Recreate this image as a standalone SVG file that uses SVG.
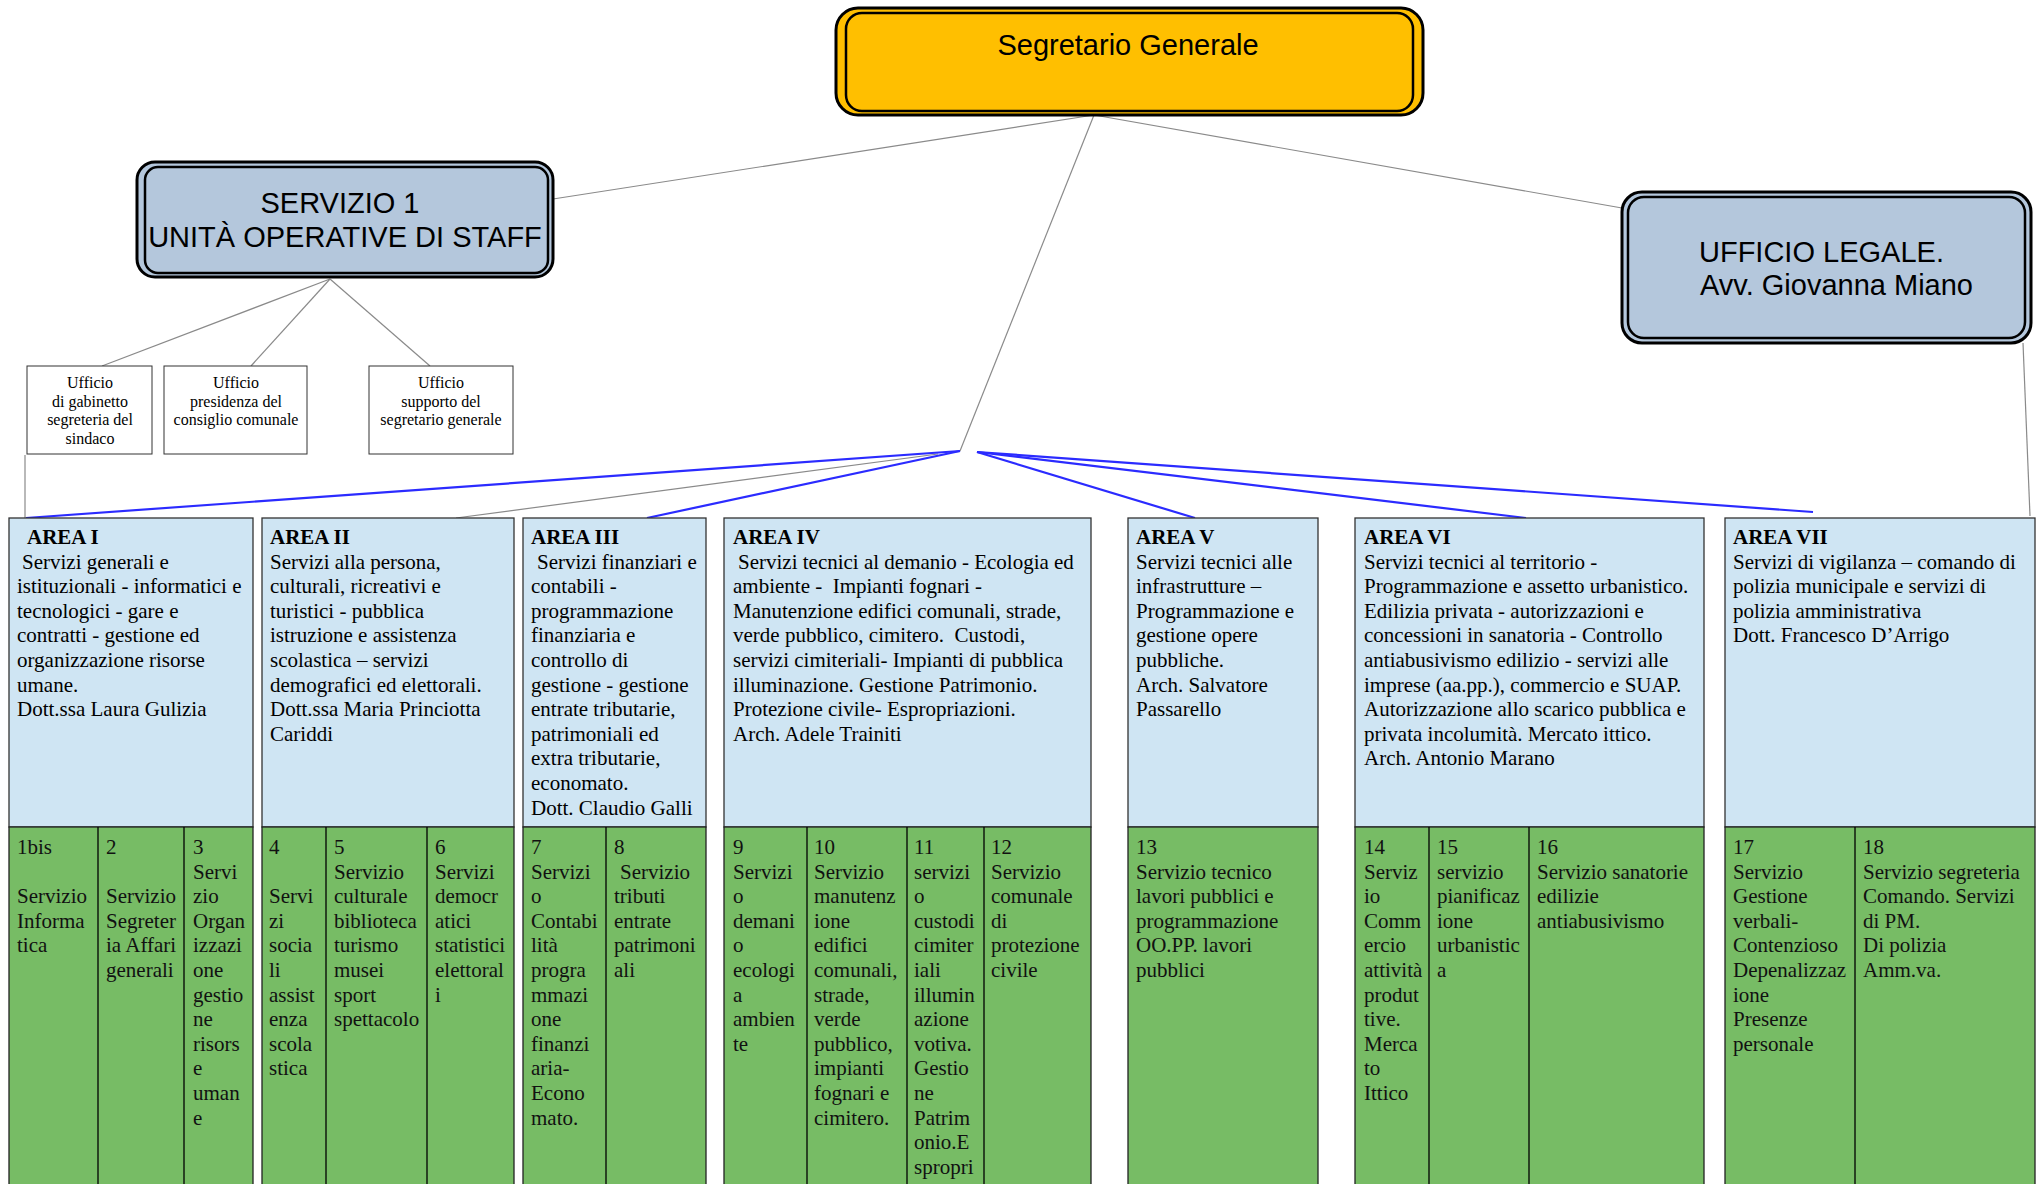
<svg xmlns="http://www.w3.org/2000/svg" width="2042" height="1184" viewBox="0 0 2042 1184" xml:space="preserve">
<style>
.h{font-family:"Liberation Sans",Arial,sans-serif;font-size:29px;fill:#000}
.s{font-family:"Liberation Serif","Times New Roman",serif;font-size:16px;fill:#000}
.a{font-family:"Liberation Serif","Times New Roman",serif;font-size:21px;fill:#000}
.g{font-family:"Liberation Serif","Times New Roman",serif;font-size:21px;fill:#111}
.t{font-weight:bold}
.area{fill:#cfe5f3;stroke:#333;stroke-width:1.3}
.green{fill:#77bc65;stroke:#222;stroke-width:1.3}
.div{stroke:#000;stroke-width:1.3}
.staff{fill:#fff;stroke:#333;stroke-width:1}
.grey{stroke:#8a8a8a;stroke-width:1.2;fill:none}
.blue{stroke:#2b2bff;stroke-width:2.2;fill:none}
.ob{stroke:#000;stroke-width:3}
.ib{fill:none;stroke:#000;stroke-width:2.5}
</style>

<g id="connectors">
  <line class="grey" x1="1094" y1="115" x2="553" y2="199"/>
  <line class="grey" x1="1094" y1="115" x2="1622" y2="208"/>
  <line class="grey" x1="1094" y1="115" x2="960" y2="451"/>
  <line class="grey" x1="330" y1="279" x2="102" y2="366"/>
  <line class="grey" x1="330" y1="279" x2="251" y2="366"/>
  <line class="grey" x1="330" y1="279" x2="430" y2="366"/>
  <line class="grey" x1="25" y1="455" x2="25" y2="518"/>
  <line class="grey" x1="2023" y1="343" x2="2030" y2="516"/>
  <line class="grey" x1="938" y1="454" x2="456" y2="518"/>
  <line class="blue" x1="960" y1="451" x2="26" y2="518"/>
  <line class="blue" x1="960" y1="451" x2="647" y2="518"/>
  <line class="blue" x1="977" y1="452" x2="1195" y2="518"/>
  <line class="blue" x1="977" y1="452" x2="1526" y2="518"/>
  <line class="blue" x1="977" y1="452" x2="1813" y2="512"/>
</g>

<g id="segretario">
  <rect class="ob" x="836" y="8" width="587" height="107" rx="22" fill="#ffbf00"/>
  <rect class="ib" x="846" y="13" width="567" height="98" rx="16"/>
  <text class="h" x="1128" y="55" text-anchor="middle">Segretario Generale</text>
</g>

<g id="servizio1">
  <rect class="ob" x="137" y="162" width="416" height="115" rx="18" fill="#b4c7dc"/>
  <rect class="ib" x="145" y="167" width="403" height="106" rx="13"/>
  <text class="h" x="340" y="213" text-anchor="middle">SERVIZIO 1</text>
  <text class="h" x="345" y="247" text-anchor="middle">UNITÀ OPERATIVE DI STAFF</text>
</g>

<g id="ufficio-legale">
  <rect class="ob" x="1622" y="192" width="409" height="151" rx="20" fill="#b4c7dc"/>
  <rect class="ib" x="1628" y="197" width="397" height="141" rx="16"/>
  <text class="h" x="1699" y="262">UFFICIO LEGALE.</text>
  <text class="h" x="1700" y="295">Avv. Giovanna Miano</text>
</g>

<g id="staff1">
  <rect class="staff" x="27" y="366" width="125" height="88"/>
  <text class="s" text-anchor="middle"><tspan x="90" y="388">Ufficio</tspan><tspan x="90" y="406.5">di gabinetto</tspan><tspan x="90" y="425">segreteria del</tspan><tspan x="90" y="443.5">sindaco</tspan></text>
</g>
<g id="staff2">
  <rect class="staff" x="164" y="366" width="143" height="88"/>
  <text class="s" text-anchor="middle"><tspan x="236" y="388">Ufficio</tspan><tspan x="236" y="406.5">presidenza del</tspan><tspan x="236" y="425">consiglio comunale</tspan></text>
</g>
<g id="staff3">
  <rect class="staff" x="369" y="366" width="144" height="88"/>
  <text class="s" text-anchor="middle"><tspan x="441" y="388">Ufficio</tspan><tspan x="441" y="406.5">supporto del</tspan><tspan x="441" y="425">segretario generale</tspan></text>
</g>

<g id="area1">
  <rect class="area" x="9" y="518" width="244" height="309"/>
  <rect class="green" x="9" y="827" width="244" height="380"/>
  <line class="div" x1="98" y1="827" x2="98" y2="1190"/>
  <line class="div" x1="184" y1="827" x2="184" y2="1190"/>
  <text class="a"><tspan class="t" x="27" y="544">AREA I</tspan><tspan x="22" y="568.6">Servizi generali e</tspan><tspan x="17" y="593.2">istituzionali - informatici e</tspan><tspan x="17" y="617.8">tecnologici - gare e</tspan><tspan x="17" y="642.4">contratti - gestione ed</tspan><tspan x="17" y="667">organizzazione risorse</tspan><tspan x="17" y="691.6">umane.</tspan><tspan x="17" y="716.2">Dott.ssa Laura Gulizia</tspan></text>
  <text class="g"><tspan x="17" y="854">1bis</tspan><tspan x="17" y="903.2">Servizio</tspan><tspan x="17" y="927.8">Informa</tspan><tspan x="17" y="952.4">tica</tspan></text>
  <text class="g"><tspan x="106" y="854">2</tspan><tspan x="106" y="903.2">Servizio</tspan><tspan x="106" y="927.8">Segreter</tspan><tspan x="106" y="952.4">ia Affari</tspan><tspan x="106" y="977">generali</tspan></text>
  <text class="g"><tspan x="193" y="854">3</tspan><tspan x="193" y="878.6">Servi</tspan><tspan x="193" y="903.2">zio</tspan><tspan x="193" y="927.8">Organ</tspan><tspan x="193" y="952.4">izzazi</tspan><tspan x="193" y="977">one</tspan><tspan x="193" y="1001.6">gestio</tspan><tspan x="193" y="1026.2">ne</tspan><tspan x="193" y="1050.8">risors</tspan><tspan x="193" y="1075.4">e</tspan><tspan x="193" y="1100">uman</tspan><tspan x="193" y="1124.6">e</tspan></text>
</g>

<g id="area2">
  <rect class="area" x="262" y="518" width="252" height="309"/>
  <rect class="green" x="262" y="827" width="252" height="380"/>
  <line class="div" x1="326" y1="827" x2="326" y2="1190"/>
  <line class="div" x1="427" y1="827" x2="427" y2="1190"/>
  <text class="a"><tspan class="t" x="270" y="544">AREA II</tspan><tspan x="270" y="568.6">Servizi alla persona,</tspan><tspan x="270" y="593.2">culturali, ricreativi e</tspan><tspan x="270" y="617.8">turistici - pubblica</tspan><tspan x="270" y="642.4">istruzione e assistenza</tspan><tspan x="270" y="667">scolastica – servizi</tspan><tspan x="270" y="691.6">demografici ed elettorali.</tspan><tspan x="270" y="716.2">Dott.ssa Maria Princiotta</tspan><tspan x="270" y="740.8">Cariddi</tspan></text>
  <text class="g"><tspan x="269" y="854">4</tspan><tspan x="269" y="903.2">Servi</tspan><tspan x="269" y="927.8">zi</tspan><tspan x="269" y="952.4">socia</tspan><tspan x="269" y="977">li</tspan><tspan x="269" y="1001.6">assist</tspan><tspan x="269" y="1026.2">enza</tspan><tspan x="269" y="1050.8">scola</tspan><tspan x="269" y="1075.4">stica</tspan></text>
  <text class="g"><tspan x="334" y="854">5</tspan><tspan x="334" y="878.6">Servizio</tspan><tspan x="334" y="903.2">culturale</tspan><tspan x="334" y="927.8">biblioteca</tspan><tspan x="334" y="952.4">turismo</tspan><tspan x="334" y="977">musei</tspan><tspan x="334" y="1001.6">sport</tspan><tspan x="334" y="1026.2">spettacolo</tspan></text>
  <text class="g"><tspan x="435" y="854">6</tspan><tspan x="435" y="878.6">Servizi</tspan><tspan x="435" y="903.2">democr</tspan><tspan x="435" y="927.8">atici</tspan><tspan x="435" y="952.4">statistici</tspan><tspan x="435" y="977">elettoral</tspan><tspan x="435" y="1001.6">i</tspan></text>
</g>

<g id="area3">
  <rect class="area" x="523" y="518" width="183" height="309"/>
  <rect class="green" x="523" y="827" width="183" height="380"/>
  <line class="div" x1="606" y1="827" x2="606" y2="1190"/>
  <text class="a"><tspan class="t" x="531" y="544">AREA III</tspan><tspan x="537" y="568.6">Servizi finanziari e</tspan><tspan x="531" y="593.2">contabili -</tspan><tspan x="531" y="617.8">programmazione</tspan><tspan x="531" y="642.4">finanziaria e</tspan><tspan x="531" y="667">controllo di</tspan><tspan x="531" y="691.6">gestione - gestione</tspan><tspan x="531" y="716.2">entrate tributarie,</tspan><tspan x="531" y="740.8">patrimoniali ed</tspan><tspan x="531" y="765.4">extra tributarie,</tspan><tspan x="531" y="790">economato.</tspan><tspan x="531" y="814.6">Dott. Claudio Galli</tspan></text>
  <text class="g"><tspan x="531" y="854">7</tspan><tspan x="531" y="878.6">Servizi</tspan><tspan x="531" y="903.2">o</tspan><tspan x="531" y="927.8">Contabi</tspan><tspan x="531" y="952.4">lità</tspan><tspan x="531" y="977">progra</tspan><tspan x="531" y="1001.6">mmazi</tspan><tspan x="531" y="1026.2">one</tspan><tspan x="531" y="1050.8">finanzi</tspan><tspan x="531" y="1075.4">aria-</tspan><tspan x="531" y="1100">Econo</tspan><tspan x="531" y="1124.6">mato.</tspan></text>
  <text class="g"><tspan x="614" y="854">8</tspan><tspan x="620" y="878.6">Servizio</tspan><tspan x="614" y="903.2">tributi</tspan><tspan x="614" y="927.8">entrate</tspan><tspan x="614" y="952.4">patrimoni</tspan><tspan x="614" y="977">ali</tspan></text>
</g>

<g id="area4">
  <rect class="area" x="724" y="518" width="367" height="309"/>
  <rect class="green" x="724" y="827" width="367" height="380"/>
  <line class="div" x1="807" y1="827" x2="807" y2="1190"/>
  <line class="div" x1="907" y1="827" x2="907" y2="1190"/>
  <line class="div" x1="984" y1="827" x2="984" y2="1190"/>
  <text class="a"><tspan class="t" x="733" y="544">AREA IV</tspan><tspan x="738" y="568.6">Servizi tecnici al demanio - Ecologia ed</tspan><tspan x="733" y="593.2">ambiente - &#160;Impianti fognari -</tspan><tspan x="733" y="617.8">Manutenzione edifici comunali, strade,</tspan><tspan x="733" y="642.4">verde pubblico, cimitero. &#160;Custodi,</tspan><tspan x="733" y="667">servizi cimiteriali- Impianti di pubblica</tspan><tspan x="733" y="691.6">illuminazione. Gestione Patrimonio.</tspan><tspan x="733" y="716.2">Protezione civile- Espropriazioni.</tspan><tspan x="733" y="740.8">Arch. Adele Trainiti</tspan></text>
  <text class="g"><tspan x="733" y="854">9</tspan><tspan x="733" y="878.6">Servizi</tspan><tspan x="733" y="903.2">o</tspan><tspan x="733" y="927.8">demani</tspan><tspan x="733" y="952.4">o</tspan><tspan x="733" y="977">ecologi</tspan><tspan x="733" y="1001.6">a</tspan><tspan x="733" y="1026.2">ambien</tspan><tspan x="733" y="1050.8">te</tspan></text>
  <text class="g"><tspan x="814" y="854">10</tspan><tspan x="814" y="878.6">Servizio</tspan><tspan x="814" y="903.2">manutenz</tspan><tspan x="814" y="927.8">ione</tspan><tspan x="814" y="952.4">edifici</tspan><tspan x="814" y="977">comunali,</tspan><tspan x="814" y="1001.6">strade,</tspan><tspan x="814" y="1026.2">verde</tspan><tspan x="814" y="1050.8">pubblico,</tspan><tspan x="814" y="1075.4">impianti</tspan><tspan x="814" y="1100">fognari e</tspan><tspan x="814" y="1124.6">cimitero.</tspan></text>
  <text class="g"><tspan x="914" y="854">11</tspan><tspan x="914" y="878.6">servizi</tspan><tspan x="914" y="903.2">o</tspan><tspan x="914" y="927.8">custodi</tspan><tspan x="914" y="952.4">cimiter</tspan><tspan x="914" y="977">iali</tspan><tspan x="914" y="1001.6">illumin</tspan><tspan x="914" y="1026.2">azione</tspan><tspan x="914" y="1050.8">votiva.</tspan><tspan x="914" y="1075.4">Gestio</tspan><tspan x="914" y="1100">ne</tspan><tspan x="914" y="1124.6">Patrim</tspan><tspan x="914" y="1149.2">onio.E</tspan><tspan x="914" y="1173.8">spropri</tspan></text>
  <text class="g"><tspan x="991" y="854">12</tspan><tspan x="991" y="878.6">Servizio</tspan><tspan x="991" y="903.2">comunale</tspan><tspan x="991" y="927.8">di</tspan><tspan x="991" y="952.4">protezione</tspan><tspan x="991" y="977">civile</tspan></text>
</g>

<g id="area5">
  <rect class="area" x="1128" y="518" width="190" height="309"/>
  <rect class="green" x="1128" y="827" width="190" height="380"/>
  <text class="a"><tspan class="t" x="1136" y="544">AREA V</tspan><tspan x="1136" y="568.6">Servizi tecnici alle</tspan><tspan x="1136" y="593.2">infrastrutture –</tspan><tspan x="1136" y="617.8">Programmazione e</tspan><tspan x="1136" y="642.4">gestione opere</tspan><tspan x="1136" y="667">pubbliche.</tspan><tspan x="1136" y="691.6">Arch. Salvatore</tspan><tspan x="1136" y="716.2">Passarello</tspan></text>
  <text class="g"><tspan x="1136" y="854">13</tspan><tspan x="1136" y="878.6">Servizio tecnico</tspan><tspan x="1136" y="903.2">lavori pubblici e</tspan><tspan x="1136" y="927.8">programmazione</tspan><tspan x="1136" y="952.4">OO.PP. lavori</tspan><tspan x="1136" y="977">pubblici</tspan></text>
</g>

<g id="area6">
  <rect class="area" x="1355" y="518" width="349" height="309"/>
  <rect class="green" x="1355" y="827" width="349" height="380"/>
  <line class="div" x1="1429" y1="827" x2="1429" y2="1190"/>
  <line class="div" x1="1529" y1="827" x2="1529" y2="1190"/>
  <text class="a"><tspan class="t" x="1364" y="544">AREA VI</tspan><tspan x="1364" y="568.6">Servizi tecnici al territorio -</tspan><tspan x="1364" y="593.2">Programmazione e assetto urbanistico.</tspan><tspan x="1364" y="617.8">Edilizia privata - autorizzazioni e</tspan><tspan x="1364" y="642.4">concessioni in sanatoria - Controllo</tspan><tspan x="1364" y="667">antiabusivismo edilizio - servizi alle</tspan><tspan x="1364" y="691.6">imprese (aa.pp.), commercio e SUAP.</tspan><tspan x="1364" y="716.2">Autorizzazione allo scarico pubblica e</tspan><tspan x="1364" y="740.8">privata incolumità. Mercato ittico.</tspan><tspan x="1364" y="765.4">Arch. Antonio Marano</tspan></text>
  <text class="g"><tspan x="1364" y="854">14</tspan><tspan x="1364" y="878.6">Serviz</tspan><tspan x="1364" y="903.2">io</tspan><tspan x="1364" y="927.8">Comm</tspan><tspan x="1364" y="952.4">ercio</tspan><tspan x="1364" y="977">attività</tspan><tspan x="1364" y="1001.6">produt</tspan><tspan x="1364" y="1026.2">tive.</tspan><tspan x="1364" y="1050.8">Merca</tspan><tspan x="1364" y="1075.4">to</tspan><tspan x="1364" y="1100">Ittico</tspan></text>
  <text class="g"><tspan x="1437" y="854">15</tspan><tspan x="1437" y="878.6">servizio</tspan><tspan x="1437" y="903.2">pianificaz</tspan><tspan x="1437" y="927.8">ione</tspan><tspan x="1437" y="952.4">urbanistic</tspan><tspan x="1437" y="977">a</tspan></text>
  <text class="g"><tspan x="1537" y="854">16</tspan><tspan x="1537" y="878.6">Servizio sanatorie</tspan><tspan x="1537" y="903.2">edilizie</tspan><tspan x="1537" y="927.8">antiabusivismo</tspan></text>
</g>

<g id="area7">
  <rect class="area" x="1725" y="518" width="310" height="309"/>
  <rect class="green" x="1725" y="827" width="310" height="380"/>
  <line class="div" x1="1855" y1="827" x2="1855" y2="1190"/>
  <text class="a"><tspan class="t" x="1733" y="544">AREA VII</tspan><tspan x="1733" y="568.6">Servizi di vigilanza – comando di</tspan><tspan x="1733" y="593.2">polizia municipale e servizi di</tspan><tspan x="1733" y="617.8">polizia amministrativa</tspan><tspan x="1733" y="642.4">Dott. Francesco D’Arrigo</tspan></text>
  <text class="g"><tspan x="1733" y="854">17</tspan><tspan x="1733" y="878.6">Servizio</tspan><tspan x="1733" y="903.2">Gestione</tspan><tspan x="1733" y="927.8">verbali-</tspan><tspan x="1733" y="952.4">Contenzioso</tspan><tspan x="1733" y="977">Depenalizzaz</tspan><tspan x="1733" y="1001.6">ione</tspan><tspan x="1733" y="1026.2">Presenze</tspan><tspan x="1733" y="1050.8">personale</tspan></text>
  <text class="g"><tspan x="1863" y="854">18</tspan><tspan x="1863" y="878.6">Servizio segreteria</tspan><tspan x="1863" y="903.2">Comando. Servizi</tspan><tspan x="1863" y="927.8">di PM.</tspan><tspan x="1863" y="952.4">Di polizia</tspan><tspan x="1863" y="977">Amm.va.</tspan></text>
</g>
</svg>
